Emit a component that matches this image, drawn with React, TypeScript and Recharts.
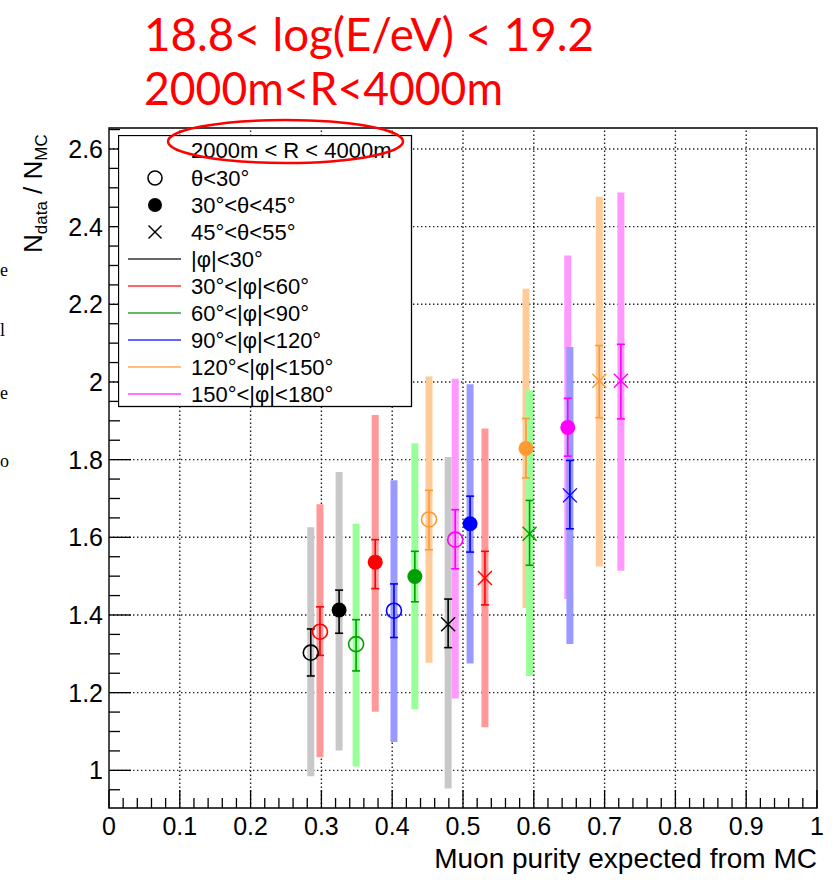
import React from "react";
import {
  ScatterChart,
  Scatter,
  XAxis,
  YAxis,
  ErrorBar,
  ReferenceLine,
  ReferenceArea,
  Legend,
} from "recharts";

const FONT = "'Liberation Sans', Arial, Helvetica, sans-serif";

const thetaLabels = ["θ<30°", "30°<θ<45°", "45°<θ<55°"];
const phiLabels = [
  "|φ|<30°",
  "30°<|φ|<60°",
  "60°<|φ|<90°",
  "90°<|φ|<120°",
  "120°<|φ|<150°",
  "150°<|φ|<180°",
];

// theta < 30 (open circles), one value per phi bin
const purityT1 = [0.285, 0.298, 0.349, 0.4025, 0.452, 0.489];
const ratioT1 = [1.303, 1.357, 1.325, 1.411, 1.646, 1.594];
const statLowT1 = [1.243, 1.296, 1.256, 1.342, 1.568, 1.519];
const statHighT1 = [1.364, 1.421, 1.388, 1.48, 1.721, 1.671];
const sysLowT1 = [0.985, 1.034, 1.01, 1.073, 1.277, 1.185];
const sysHighT1 = [1.626, 1.685, 1.635, 1.747, 2.014, 2.008];

// 30 < theta < 45 (full circles)
const purityT2 = [0.325, 0.376, 0.432, 0.51, 0.589, 0.648];
const ratioT2 = [1.413, 1.536, 1.499, 1.635, 1.829, 1.883];
const statLowT2 = [1.353, 1.468, 1.434, 1.562, 1.753, 1.809];
const statHighT2 = [1.464, 1.594, 1.564, 1.706, 1.906, 1.958];
const sysLowT2 = [1.051, 1.151, 1.157, 1.275, 1.418, 1.441];
const sysHighT2 = [1.768, 1.915, 1.842, 1.994, 2.24, 2.326];

// 45 < theta < 55 (crosses)
const purityT3 = [0.479, 0.531, 0.594, 0.651, 0.6925, 0.723];
const ratioT3 = [1.376, 1.495, 1.609, 1.708, 2.003, 2.003];
const statLowT3 = [1.316, 1.426, 1.528, 1.622, 1.908, 1.905];
const statHighT3 = [1.441, 1.564, 1.695, 1.798, 2.094, 2.097];
const sysLowT3 = [0.953, 1.111, 1.243, 1.325, 1.525, 1.514];
const sysHighT3 = [1.807, 1.88, 1.979, 2.09, 2.477, 2.488];

const xMajorTicks = [0, 0.1, 0.2, 0.3, 0.4, 0.5, 0.6, 0.7, 0.8, 0.9, 1];
const yMajorTicks = [1, 1.2, 1.4, 1.6, 1.8, 2, 2.2, 2.4, 2.6];
const xDomain = [0, 1];
const yDomain = [0.903, 2.654];

const pointColors = ["#000000", "#ff0000", "#00a000", "#0000ff", "#ff9933", "#ff00ff"];
const bandColors = ["#c8c8c8", "#ff9999", "#99ff99", "#9999ff", "#ffcc99", "#ff99ff"];
const legendLineColors = ["#333333", "#ff3333", "#33a033", "#3333ff", "#ffaa55", "#ff44ff"];

const thetaBins = [
  { purity: purityT1, ratio: ratioT1, statLow: statLowT1, statHigh: statHighT1, sysLow: sysLowT1, sysHigh: sysHighT1 },
  { purity: purityT2, ratio: ratioT2, statLow: statLowT2, statHigh: statHighT2, sysLow: sysLowT2, sysHigh: sysHighT2 },
  { purity: purityT3, ratio: ratioT3, statLow: statLowT3, statHigh: statHighT3, sysLow: sysLowT3, sysHigh: sysHighT3 },
];

const series = thetaBins.flatMap((bin, t) =>
  phiLabels.map((_, p) => {
    const y = bin.ratio[p];
    return {
      key: `t${t}p${p}`,
      theta: t,
      phi: p,
      data: [
        {
          x: bin.purity[p],
          y,
          stat: [y - bin.statLow[p], bin.statHigh[p] - y],
          sys: [y - bin.sysLow[p], bin.sysHigh[p] - y],
        },
      ],
    };
  })
);

const xTicks = Array.from({ length: 51 }, (_, i) => Number((i * 0.02).toFixed(2)));
const yTicks = Array.from({ length: 35 }, (_, i) => Number((0.95 + i * 0.05).toFixed(2)));

const isMajor = (v: number, majors: number[]) => majors.some((m) => Math.abs(m - v) < 1e-6);
const fmt = (v: number) => String(Number(v.toFixed(1)));

function Marker({ kind, color, cx, cy, size = 7.5 }: any) {
  if (cx == null || cy == null) return <g />;
  if (kind === 0) {
    return <circle cx={cx} cy={cy} r={size} fill="none" stroke={color} strokeWidth={1.6} />;
  }
  if (kind === 1) {
    return <circle cx={cx} cy={cy} r={size} fill={color} />;
  }
  const d = size - 0.5;
  return (
    <g stroke={color} strokeWidth={1.4}>
      <line x1={cx - d} y1={cy - d} x2={cx + d} y2={cy + d} />
      <line x1={cx - d} y1={cy + d} x2={cx + d} y2={cy - d} />
    </g>
  );
}

const XTick = (props: any) => {
  const { x, y, payload } = props;
  const major = isMajor(payload.value, xMajorTicks);
  return (
    <g>
      <line x1={x} x2={x} y1={y} y2={y - (major ? 18 : 10)} stroke="#000" strokeWidth={1.3} />
      {major && (
        <text x={x} y={y + 27} textAnchor="middle" fontSize={25} fontFamily={FONT} fill="#000">
          {fmt(payload.value)}
        </text>
      )}
    </g>
  );
};

const YTick = (props: any) => {
  const { x, y, payload } = props;
  const major = isMajor(payload.value, yMajorTicks);
  return (
    <g>
      <line x1={x} x2={x + (major ? 22 : 11)} y1={y} y2={y} stroke="#000" strokeWidth={1.3} />
      {major && (
        <text x={x - 6} y={y + 9} textAnchor="end" fontSize={25} fontFamily={FONT} fill="#000">
          {fmt(payload.value)}
        </text>
      )}
    </g>
  );
};

function LegendBox() {
  const rowY = (i: number) => 43 + i * 27;
  return (
    <svg width={296} height={274} style={{ display: "block" }}>
      <rect x={0.5} y={0.5} width={293} height={271} fill="#fff" stroke="#000" strokeWidth={1.3} />
      <text x={73} y={23} fontSize={22} fontFamily={FONT} fill="#000">
        2000m &lt; R &lt; 4000m
      </text>
      {thetaLabels.map((label, i) => (
        <g key={label}>
          <Marker kind={i} color="#000" cx={37} cy={rowY(i)} size={7} />
          <text x={73} y={rowY(i) + 8} fontSize={22} fontFamily={FONT} fill="#000">
            {label}
          </text>
        </g>
      ))}
      {phiLabels.map((label, i) => (
        <g key={label}>
          <line x1={10} x2={63} y1={rowY(i + 3)} y2={rowY(i + 3)} stroke={legendLineColors[i]} strokeWidth={1.6} />
          <text x={73} y={rowY(i + 3) + 8} fontSize={22} fontFamily={FONT} fill="#000">
            {label}
          </text>
        </g>
      ))}
    </svg>
  );
}

export default function App() {
  return (
    <div style={{ position: "absolute", left: 0, top: 0, width: 836, height: 880, background: "#fff" }}>
      <ScatterChart width={836} height={880} margin={{ top: 128, right: 19, bottom: 32, left: 49 }}>
        <XAxis
          type="number"
          dataKey="x"
          domain={xDomain}
          ticks={xTicks}
          interval={0}
          allowDataOverflow
          height={40}
          tickSize={0}
          tickMargin={0}
          axisLine={false}
          tickLine={false}
          tick={<XTick />}
        />
        <YAxis
          type="number"
          dataKey="y"
          domain={yDomain}
          ticks={yTicks}
          interval={0}
          allowDataOverflow
          width={60}
          tickSize={0}
          tickMargin={0}
          axisLine={false}
          tickLine={false}
          tick={<YTick />}
        />
        {xMajorTicks.slice(1, -1).map((v) => (
          <ReferenceLine key={`gx${v}`} x={v} stroke="#222" strokeWidth={1.4} strokeDasharray="1.4 2.6" />
        ))}
        {yMajorTicks.map((v) => (
          <ReferenceLine key={`gy${v}`} y={v} stroke="#222" strokeWidth={1.4} strokeDasharray="1.4 2.6" />
        ))}
        {series.map((s) => (
          <Scatter
            key={`band-${s.key}`}
            data={s.data}
            isAnimationActive={false}
            shape={() => <g />}
            legendType="none"
          >
            <ErrorBar
              dataKey="sys"
              direction="y"
              width={0}
              strokeWidth={7}
              stroke={bandColors[s.phi]}
              isAnimationActive={false}
            />
          </Scatter>
        ))}
        {series.map((s) => (
          <Scatter
            key={`pt-${s.key}`}
            data={s.data}
            isAnimationActive={false}
            legendType="none"
            shape={(props: any) => (
              <Marker kind={s.theta} color={pointColors[s.phi]} cx={props.cx} cy={props.cy} />
            )}
          >
            <ErrorBar
              dataKey="stat"
              direction="y"
              width={4}
              strokeWidth={1.6}
              stroke={pointColors[s.phi]}
              isAnimationActive={false}
            />
          </Scatter>
        ))}
        <ReferenceArea
          x1={xDomain[0]}
          x2={xDomain[1]}
          y1={yDomain[0]}
          y2={yDomain[1]}
          fill="none"
          stroke="#000"
          strokeWidth={1.4}
          ifOverflow="visible"
        />
        <Legend
          layout="vertical"
          align="center"
          verticalAlign="middle"
          wrapperStyle={{ left: 118, top: 135, width: 296, height: 274 }}
          content={() => <LegendBox />}
        />
      </ScatterChart>
      <svg
        width={836}
        height={880}
        style={{ position: "absolute", left: 0, top: 0, pointerEvents: "none" }}
      >
        <text x={144} y={51} fontSize={46} fontFamily="Lato, 'Open Sans', sans-serif" fill="#ff0000" textLength={450} lengthAdjust="spacingAndGlyphs">
          18.8&lt; log(E/eV) &lt; 19.2
        </text>
        <text x={144} y={105} fontSize={46} fontFamily="Lato, 'Open Sans', sans-serif" fill="#ff0000" textLength={359} lengthAdjust="spacingAndGlyphs">
          2000m&lt;R&lt;4000m
        </text>
        <ellipse cx={285.5} cy={141.5} rx={117.5} ry={21.5} fill="none" stroke="#ff0000" strokeWidth={2.5} />
        <text x={817} y={868} textAnchor="end" fontSize={28} fontFamily={FONT} fill="#000">
          Muon purity expected from MC
        </text>
        <text transform="translate(42,253) rotate(-90)" fontSize={26} fontFamily={FONT} fill="#000">
          N
          <tspan fontSize={17} dy={5}>data</tspan>
          <tspan dy={-5}> / N</tspan>
          <tspan fontSize={17} dy={5}>MC</tspan>
        </text>
        <g fontFamily="'Liberation Serif', 'Times New Roman', serif" fontSize={18} fill="#000">
          <text x={0} y={276}>e</text>
          <text x={0} y={336}>l</text>
          <text x={0} y={399}>e</text>
          <text x={0} y={467}>o</text>
        </g>
      </svg>
    </div>
  );
}
